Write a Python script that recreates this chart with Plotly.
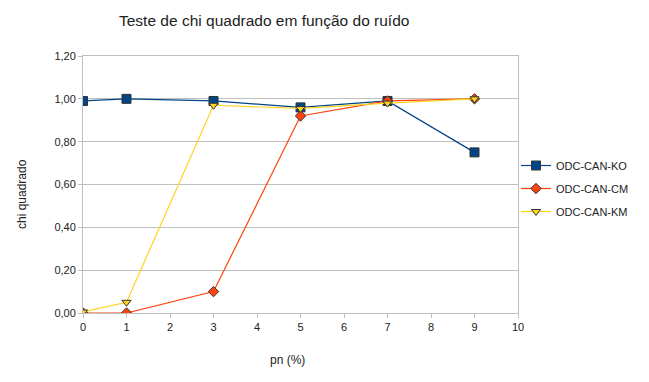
import plotly.graph_objects as go

# pn (%) values on the x axis
pn = [0, 1, 3, 5, 7, 9]

# chi quadrado per series
odc_can_ko = [0.99, 1.00, 0.99, 0.96, 0.99, 0.75]
odc_can_cm = [0.00, 0.00, 0.10, 0.92, 0.99, 1.00]
odc_can_km = [0.005, 0.05, 0.97, 0.955, 0.98, 1.00]

series = [
    ("ODC-CAN-KO", odc_can_ko, "#004586", "square", 9),
    ("ODC-CAN-CM", odc_can_cm, "#ff420e", "diamond", 8),
    ("ODC-CAN-KM", odc_can_km, "#ffd320", "triangle-down", 8),
]

fig = go.Figure()
for name, vals, color, symbol, size in series:
    fig.add_trace(go.Scatter(
        x=pn, y=vals, name=name, legendgroup=name, mode="lines+markers",
        line=dict(color=color, width=1.2),
        marker=dict(symbol=symbol, size=size, color=color,
                    line=dict(color="#333333", width=1)),
    ))

# the page body has an 8px margin, so the figure is drawn 8px smaller
OFF = 8
W, H = 649 - OFF, 382 - OFF
L, R, T, B = 83 - OFF, 649 - 518, 56 - OFF, 382 - 313

font = "Liberation Sans, Arial, sans-serif"
fig.update_layout(
    width=W, height=H,
    paper_bgcolor="white", plot_bgcolor="white",
    separators=",.",
    margin=dict(l=L, r=R, t=T, b=B, autoexpand=False),
    font=dict(family=font, size=11, color="#222222"),
    showlegend=True,
    legend=dict(xref="container", yref="container",
                x=(516 - OFF) / W, y=1 - (151 - OFF) / H,
                xanchor="left", yanchor="top",
                font=dict(size=11), itemwidth=30, tracegroupgap=4,
                bgcolor="rgba(0,0,0,0)"),
    xaxis=dict(range=[0, 10], tickmode="linear", dtick=1, showgrid=False,
               zeroline=False, showline=True, linecolor="#bfbfbf",
               ticks="outside", ticklen=4, tickcolor="#bfbfbf", mirror=True,
               tickfont=dict(size=11), automargin=False),
    yaxis=dict(range=[0, 1.2], tickmode="linear", dtick=0.2, tickformat=".2f",
               showgrid=True, gridcolor="#bfbfbf", gridwidth=1, zeroline=False,
               showline=True, linecolor="#bfbfbf", ticks="outside", ticklen=4,
               tickcolor="#bfbfbf", mirror=True, tickfont=dict(size=11),
               automargin=False),
)

# annotations given in screen pixel positions, converted to paper coordinates
plot_w = W - L - R
plot_h = H - T - B
labels = [
    ("Teste de chi quadrado em função do ruído", 264, 20, 15.5, 0),
    ("pn (%)", 287, 360, 12, 0),
    ("chi quadrado", 22, 194, 12, -90),
]
for text, px, py, size, angle in labels:
    fig.add_annotation(text=text, xref="paper", yref="paper",
                       x=(px - OFF - L) / plot_w, y=(H - B - (py - OFF)) / plot_h,
                       xanchor="center", yanchor="middle", showarrow=False,
                       textangle=angle, font=dict(size=size, color="#222222"))

fig.write_html("out.html")
